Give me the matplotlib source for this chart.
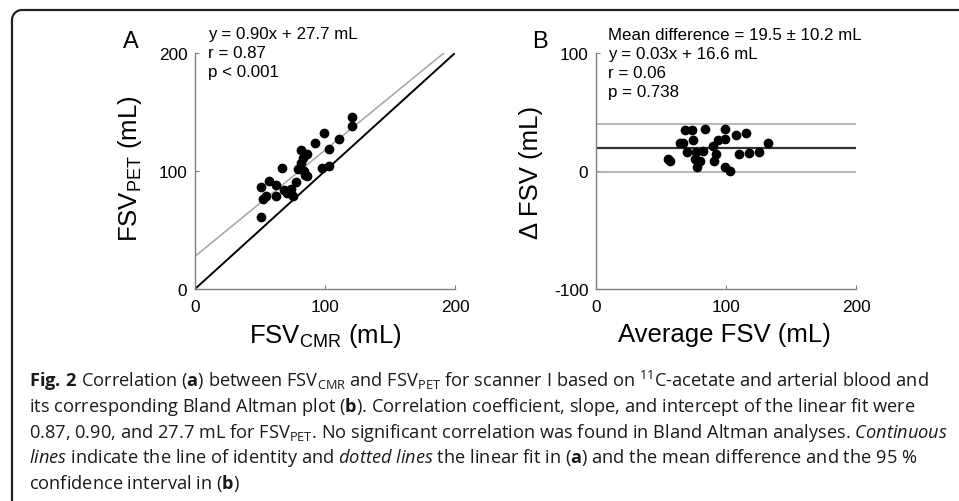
import numpy as np
import matplotlib
matplotlib.use('Agg')
import matplotlib.pyplot as plt
from matplotlib.lines import Line2D

# valeurs lues sur la figure
# panel A : FSV CMR (x) vs FSV PET (y)
cmr = [120.9, 121.0, 99.5, 110.5, 92.6, 81.5, 103.0, 85.9, 82.8, 81.5, 66.7, 79.0,
       84.1, 97.7, 103.0, 84.6, 85.9, 56.9, 62.0, 77.7, 50.8, 68.7, 73.8, 70.5,
       75.6, 62.3, 54.6, 52.6, 50.8]
pet = [145.5, 137.9, 132.5, 126.8, 124.0, 117.8, 118.6, 114.4, 110.7, 106.8, 102.5, 101.4,
       100.3, 102.3, 104.0, 96.6, 95.5, 91.8, 88.4, 90.7, 86.4, 84.2, 84.7, 81.4,
       79.1, 78.5, 78.5, 76.3, 60.7]
fit_slope, fit_icpt = 0.90, 27.7

# panel B : Bland Altman
ba_avg = [68.5, 73.6, 84.1, 99.0, 107.5, 115.2, 74.9, 64.6, 66.7, 94.1, 99.2, 90.2,
          132.6, 70.2, 82.0, 76.9, 92.3, 110.3, 117.9, 125.6, 55.6, 57.0, 76.2, 80.0,
          90.8, 77.4, 99.2, 103.0]
ba_diff = [35.0, 34.7, 35.9, 35.9, 30.5, 32.2, 26.3, 23.7, 23.7, 26.5, 27.1, 21.5,
           23.4, 16.4, 16.7, 15.8, 14.4, 14.4, 15.3, 15.8, 9.9, 8.5, 10.2, 8.7,
           8.2, 3.7, 3.1, 0.3]
mean_diff, sd_diff = 19.5, 10.2
lim_hi = mean_diff + 1.96 * sd_diff
lim_lo = mean_diff - 1.96 * sd_diff

txtA = ["y = 0.90x + 27.7 mL", "r = 0.87", "p < 0.001"]
txtB = ["Mean difference = 19.5 \u00b1 10.2 mL", "y = 0.03x + 16.6 mL", "r = 0.06", "p = 0.738"]

caption = [
    r"$\mathbf{Fig.\,2}$ Correlation ($\mathbf{a}$) between FSV$_{\mathregular{CMR}}$ and FSV$_{\mathregular{PET}}$ for scanner I based on $^{\mathregular{11}}$C-acetate and arterial blood and",
    r"its corresponding Bland Altman plot ($\mathbf{b}$). Correlation coefficient, slope, and intercept of the linear fit were",
    r"0.87, 0.90, and 27.7 mL for FSV$_{\mathregular{PET}}$. No significant correlation was found in Bland Altman analyses. $\mathit{Continuous}$",
    r"$\mathit{lines}$ indicate the line of identity and $\mathit{dotted}$ $\mathit{lines}$ the linear fit in ($\mathbf{a}$) and the mean difference and the 95 %",
    r"confidence interval in ($\mathbf{b}$)",
]
capfont = 'Open Sans'

plt.rcParams['mathtext.fontset'] = 'custom'
plt.rcParams['mathtext.rm'] = capfont
plt.rcParams['mathtext.it'] = capfont + ':italic'
plt.rcParams['mathtext.bf'] = capfont + ':bold'
plt.rcParams['font.family'] = ['Liberation Sans', 'DejaVu Sans']
plt.rcParams['axes.unicode_minus'] = False

W, H = 959, 502
def fx(x):
    return x / W
def fy(y):
    return 1 - y / H

fig = plt.figure(figsize=(W / 100, H / 100), dpi=100)

def style(ax):
    for s in ['top', 'right']:
        ax.spines[s].set_visible(False)
    for s in ['left', 'bottom']:
        ax.spines[s].set_color('#808080')
        ax.spines[s].set_linewidth(1.0)
    ax.tick_params(direction='in', length=3, color='#808080', labelsize=12.4)
    ax.tick_params(axis='y', pad=5.5)
    ax.tick_params(axis='x', pad=7.5)
    ax.set_xlim(0, 200)
    ax.set_xticks([0, 100, 200])

axA = fig.add_axes([fx(195), fy(290), 260 / W, 236 / H])
style(axA)
axA.set_ylim(0, 200)
axA.set_yticks([0, 100, 200])
axA.plot([0, 200], [0, 200], color='black', lw=1.4)
xe = (200 - fit_icpt) / fit_slope
axA.plot([0, xe], [fit_icpt, fit_slope * xe + fit_icpt], color='#aaaaaa', lw=1.2)
axA.plot(cmr, pet, 'o', color='black', ms=6, zorder=3)

axB = fig.add_axes([fx(596), fy(290), 260 / W, 236 / H])
style(axB)
axB.set_ylim(-100, 100)
axB.set_yticks([-100, 0, 100])
axB.axhline(lim_hi, color='#aaaaaa', lw=1.2)
axB.axhline(lim_lo, color='#aaaaaa', lw=1.2)
axB.axhline(mean_diff, color='#333333', lw=1.6)
axB.plot(ba_avg, ba_diff, 'o', color='black', ms=6, zorder=3)

# textes
fig.text(fx(131), fy(48), 'A', fontsize=17, ha='center', va='baseline')
fig.text(fx(540), fy(48), 'B', fontsize=17, ha='center', va='baseline')
for i, s in enumerate(txtA):
    fig.text(fx(208), fy(39 + 19 * i), s, fontsize=12.2, ha='left', va='baseline')
for i, s in enumerate(txtB):
    fig.text(fx(608), fy(40 + 19 * i), s, fontsize=12.2, ha='left', va='baseline')

fig.text(fx(325), fy(343), r'FSV$_{\mathregular{CMR}}$ (mL)', fontsize=18.5, ha='center', va='baseline')
fig.text(fx(724), fy(342), 'Average FSV (mL)', fontsize=18.5, ha='center', va='baseline')
fig.text(fx(130), fy(169), r'FSV$_{\mathregular{PET}}$ (mL)', fontsize=18.5, ha='center', va='center', rotation=90)
fig.text(fx(531), fy(172), '\u0394 FSV (mL)', fontsize=18.5, ha='center', va='center', rotation=90)

# legende : taille ajustee pour que la ligne la plus longue tienne dans ~922 px
rend = fig.canvas.get_renderer()
cs = 12.5
wmax = 0
for line in caption:
    probe = fig.text(0, 0, line, fontsize=cs, family=capfont)
    wmax = max(wmax, probe.get_window_extent(rend).width)
    probe.remove()
cs = cs * 922 / wmax
for i, line in enumerate(caption):
    fig.text(fx(29), fy(387 + 25.5 * i), line, fontsize=cs, family=capfont,
             color='#1a1a1a', ha='left', va='baseline')

# cadre
r = 10
t = np.linspace(np.pi, np.pi / 2, 20)
xs = [12] + list(22 + r * np.cos(t)) + [W]
ys = [H] + list(21 - r * np.sin(t)) + [11]
fig.add_artist(Line2D([fx(v) for v in xs], [fy(v) for v in ys],
                      transform=fig.transFigure, color='#222222', lw=1.6))

fig.savefig('out.png', dpi=100)
